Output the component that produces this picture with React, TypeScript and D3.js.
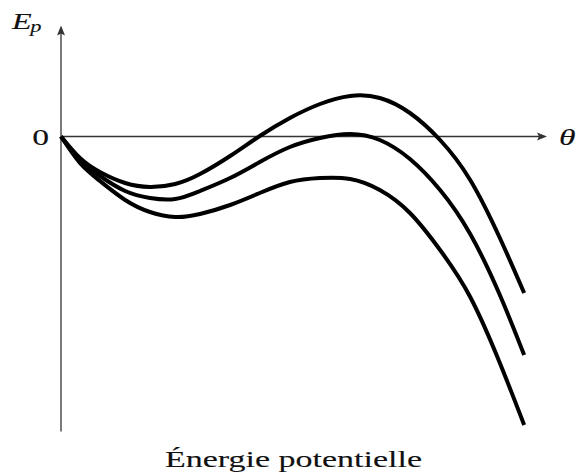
import React from "react";
import * as d3 from "d3";

// abscissa readings shared by the three curves
const thetaValues = [
  0, 0.39, 0.8, 1.32, 1.83, 2.35, 2.86, 3.48, 4.09, 4.71, 5.33, 5.95, 6.56, 7.18, 7.8, 8.42, 9.03, 9.53,
];
const epHigh = [
  0, -0.43, -0.71, -0.93, -1.01, -0.95, -0.75, -0.39, 0.01, 0.37, 0.65, 0.81, 0.77, 0.47, -0.07, -0.87, -2.03, -3.13,
];
const epMid = [
  0, -0.47, -0.79, -1.09, -1.23, -1.25, -1.09, -0.83, -0.51, -0.21, -0.03, 0.05, -0.07, -0.45, -1.07, -1.95, -3.17, -4.37,
];
const epLow = [
  0, -0.53, -0.89, -1.27, -1.51, -1.61, -1.55, -1.37, -1.13, -0.91, -0.83, -0.85, -1.07, -1.53, -2.27, -3.21, -4.53, -5.77,
];
const series = [epHigh, epMid, epLow];

const thetaDomain: [number, number] = [0, 10];
const epDomain: [number, number] = [-6, 2];
const epAxisTop = 2.22;
const epAxisBottom = -5.9;

const W = 586;
const H = 474;

export default function App() {
  const x = d3.scaleLinear().domain(thetaDomain).range([61, 547]);
  const y = d3.scaleLinear().domain(epDomain).range([436.5, 36.5]);

  const line = d3
    .line<number>()
    .x((_, i) => x(thetaValues[i]))
    .y((d) => y(d))
    .curve(d3.curveNatural);

  const x0 = x(0);
  const y0 = y(0);
  const xEnd = x(thetaDomain[1]);
  const yTop = y(epAxisTop);
  const axisColor = "#333";
  const font = "'Liberation Serif', serif";
  const sx = 1.4; // the picture is stretched sideways

  return (
    <svg
      width={W}
      height={H}
      style={{ position: "absolute", left: 0, top: 0, background: "#fff" }}
    >
      {/* axes */}
      <line x1={x0} x2={xEnd - 6} y1={y0} y2={y0} stroke={axisColor} strokeWidth={1.3} />
      <path
        d={`M${xEnd},${y0} L${xEnd - 10},${y0 - 4} L${xEnd - 8},${y0} L${xEnd - 10},${y0 + 4} Z`}
        fill={axisColor}
      />
      <line x1={x0} x2={x0} y1={y(epAxisBottom)} y2={yTop + 6} stroke={axisColor} strokeWidth={1.3} />
      <path
        d={`M${x0},${yTop} L${x0 - 4},${yTop + 10} L${x0},${yTop + 8} L${x0 + 4},${yTop + 10} Z`}
        fill={axisColor}
      />

      {/* curves */}
      {series.map((s, i) => (
        <path key={i} d={line(s) ?? ""} fill="none" stroke="#000" strokeWidth={4} />
      ))}

      {/* labels */}
      <g fill="#111" stroke="#111" strokeWidth={0.12} fontFamily={font}>
        <g transform={`translate(12,29) scale(${sx},1)`}>
          <text fontStyle="italic" fontSize={23}>
            E
            <tspan fontSize={16} dy={3} dx={-1}>p</tspan>
          </text>
        </g>
        <g transform={`translate(49,${y0 + 8.5}) scale(${sx},1)`}>
          <text fontSize={24} textAnchor="end">0</text>
        </g>
        <g transform={`translate(559,${y0 + 8.5}) scale(${sx},1)`}>
          <text fontStyle="italic" fontSize={24}>θ</text>
        </g>
        <text x={165} y={467} fontSize={24} textLength={257} lengthAdjust="spacingAndGlyphs">
          Énergie potentielle
        </text>
      </g>
    </svg>
  );
}
